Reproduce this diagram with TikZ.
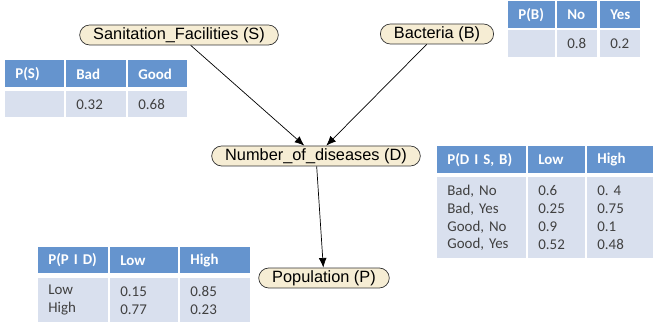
\documentclass[tikz,border=0pt]{standalone}
\usepackage{fontspec}
\usetikzlibrary{arrows.meta}
\setmainfont{Carlito}
\newfontfamily\nodefont{Liberation Sans}
\definecolor{hdrblue}{RGB}{101,148,206}
\definecolor{bodyblue}{RGB}{217,224,238}
\definecolor{pillfill}{RGB}{246,237,212}
\definecolor{cellgray}{RGB}{64,64,64}
\tikzset{
  var/.style={draw=black!80, fill=pillfill, rounded corners=0.2cm, minimum height=0.4cm,
    inner xsep=0.27cm, inner ysep=0pt, font=\nodefont\fontsize{9.3}{11}\selectfont},
  hcell/.style={fill=hdrblue, text=white, anchor=north west, align=left, inner xsep=0.2cm,
    inner ysep=0pt, font=\bfseries\fontsize{8.5}{10.2}\selectfont},
  bcell/.style={fill=bodyblue, text=cellgray, anchor=north west, align=left, inner xsep=0.2cm,
    inner ysep=0pt, font=\fontsize{8.5}{10.2}\selectfont},
}
\begin{document}
\begin{tikzpicture}
            [x=0.02cm, y=-0.02cm, ->, >={Latex[length=5.5pt,width=4.5pt]}, thin]
            \useasboundingbox (0,0) rectangle (655,327);
            % variables
            \node[var] (S) at (179, 35) {Sanitation\_Facilities (S)};
            \node[var] (B) at (437, 34) {Bacteria (B)};
            \node[var] (D) at (316, 156) {Number\_of\_diseases (D)};
            \node[var] (P) at (324, 278) {Population (P)};

            \path [->] (S) edge (D);
            \path [->] (B) edge (D);
            \path [->] (D) edge (P);

            % P(S)
            \node[hcell, text width=0.78cm, minimum height=0.54cm] (sh1) at (5, 60) {P(S)};
            \node[hcell, text width=0.8cm, minimum height=0.54cm] (sh2) at (66, 60) {Bad};
            \node[hcell, text width=0.78cm, minimum height=0.54cm] (sh3) at (128, 60) {Good};
            \node[bcell, text width=0.78cm, minimum height=0.52cm] (sb1) at (5, 91) {};
            \node[bcell, text width=0.8cm, minimum height=0.52cm] (sb2) at (66, 91) {0.32};
            \node[bcell, text width=0.78cm, minimum height=0.52cm] (sb3) at (128, 91) {0.68};

            % P(B)
            \node[hcell, text width=0.54cm, minimum height=0.54cm] (bh1) at (508, 1) {P(B)};
            \node[hcell, text width=0.4cm, minimum height=0.54cm] (bh2) at (557, 1) {No};
            \node[hcell, text width=0.4cm, minimum height=0.54cm] (bh3) at (600, 1) {Yes};
            \node[bcell, text width=0.54cm, minimum height=0.54cm] (bb1) at (508, 30) {};
            \node[bcell, text width=0.4cm, minimum height=0.54cm] (bb2) at (557, 30) {0.8};
            \node[bcell, text width=0.4cm, minimum height=0.54cm] (bb3) at (600, 30) {0.2};

            % P(D | S, B)
            \node[hcell, text width=1.38cm, minimum height=0.54cm] (dh1) at (437, 146) {P(D I S, B)};
            \node[hcell, text width=0.74cm, minimum height=0.54cm] (dh2) at (528, 146) {Low};
            \node[hcell, text width=0.92cm, minimum height=0.54cm] (dh3) at (587, 146) {High};
            \node[bcell, text width=1.38cm, minimum height=1.62cm] (db1) at (437, 177)
                {Bad, No\\Bad, Yes\\Good, No\\Good, Yes};
            \node[bcell, text width=0.74cm, minimum height=1.62cm] (db2) at (528, 177)
                {0.6\\0.25\\0.9\\0.52};
            \node[bcell, text width=0.92cm, minimum height=1.62cm] (db3) at (587, 177)
                {0.\ 4\\0.75\\0.1\\0.48};

            % P(P | D)
            \node[hcell, text width=1.0cm, minimum height=0.52cm] (ph1) at (38, 247) {P(P I D)};
            \node[hcell, text width=0.96cm, minimum height=0.52cm] (ph2) at (110, 247) {Low};
            \node[hcell, text width=1.0cm, minimum height=0.52cm] (ph3) at (180, 247) {High};
            \node[bcell, text width=1.0cm, minimum height=0.88cm] (pb1) at (38, 278) {Low\\High};
            \node[bcell, text width=0.96cm, minimum height=0.88cm] (pb2) at (110, 278) {0.15\\0.77};
            \node[bcell, text width=1.0cm, minimum height=0.88cm] (pb3) at (180, 278) {0.85\\0.23};
        \end{tikzpicture}
\end{document}
